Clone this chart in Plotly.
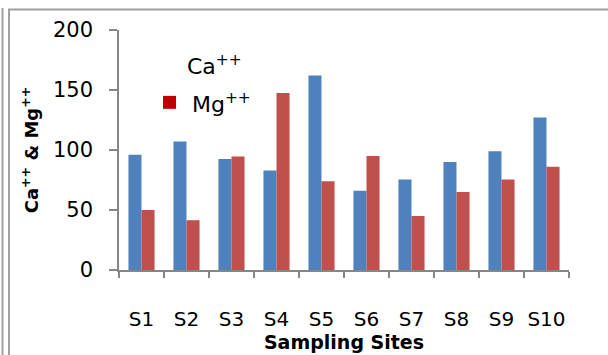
import plotly.graph_objects as go

sites = ["S1", "S2", "S3", "S4", "S5", "S6", "S7", "S8", "S9", "S10"]
ca = [96, 107, 92.5, 83, 162, 66, 75.5, 90, 99, 127]
mg = [50, 41.5, 94.5, 147.5, 74, 95, 45, 65, 75.5, 86]
y_ticks = [0, 50, 100, 150, 200]

W, H = 608, 355
L, R, T, B = 119, 39, 30, 84.5
pw, ph = W - L - R, H - T - B

def px(x):
    return (x - L) / pw

def py(y):
    return (H - B - y) / ph

FONT = "DejaVu Sans"
fig = go.Figure()
fig.add_trace(go.Bar(x=sites, y=ca, name="Ca++", marker=dict(color="#4F81BD", line=dict(width=0))))
fig.add_trace(go.Bar(x=sites, y=mg, name="Mg++", marker=dict(color="#C0504D", line=dict(width=0))))

shapes = [
    dict(type="line", xref="paper", yref="paper", x0=px(2.5), x1=px(2.5), y0=py(8), y1=py(356), line=dict(color="#A0A0A0", width=2)),
    dict(type="line", xref="paper", yref="paper", x0=px(9), x1=px(9), y0=py(10), y1=py(356), line=dict(color="#A0A0A0", width=2)),
    dict(type="line", xref="paper", yref="paper", x0=px(8), x1=px(609), y0=py(9.5), y1=py(9.5), line=dict(color="#A0A0A0", width=2)),
    dict(type="rect", xref="paper", yref="paper", x0=px(163), x1=px(176), y0=py(96), y1=py(109), fillcolor="#C00000", line=dict(width=0)),
]
annotations = [
    dict(xref="paper", yref="paper", x=px(185), y=py(65), text="Ca<sup>++</sup>", showarrow=False, xanchor="left", yanchor="middle",
         font=dict(family=FONT, size=22, color="#000")),
    dict(xref="paper", yref="paper", x=px(190), y=py(103), text="Mg<sup>++</sup>", showarrow=False, xanchor="left", yanchor="middle",
         font=dict(family=FONT, size=22, color="#000")),
]

fig.update_layout(
    width=W, height=H,
    margin=dict(l=L, r=R, t=T, b=B),
    paper_bgcolor="white", plot_bgcolor="white",
    barmode="group", bargap=0.42, bargroupgap=0,
    showlegend=False,
    font=dict(family=FONT, size=18, color="#000"),
    shapes=shapes, annotations=annotations,
    xaxis=dict(
        showline=True, linecolor="#868686", linewidth=1.5,
        ticks="outside", tickson="boundaries", ticklen=6, tickcolor="#868686", tickwidth=1.5,
        tickfont=dict(family=FONT, size=20), ticklabelstandoff=30, tickangle=0, automargin=False,
        title=dict(text="<b>Sampling Sites</b>", font=dict(family=FONT, size=19), standoff=4),
        showgrid=False,
    ),
    yaxis=dict(
        range=[0, 200], tickvals=y_ticks,
        showline=True, linecolor="#868686", linewidth=1.5,
        ticks="outside", ticklen=8, tickcolor="#868686", tickwidth=1.5,
        tickfont=dict(family=FONT, size=21), ticklabelstandoff=12, automargin=False,
        title=dict(text="<b>Ca<sup>++</sup> & Mg<sup>++</sup></b>", font=dict(family=FONT, size=18), standoff=10),
        showgrid=False, zeroline=False,
    ),
)

fig.write_html("out.html")
